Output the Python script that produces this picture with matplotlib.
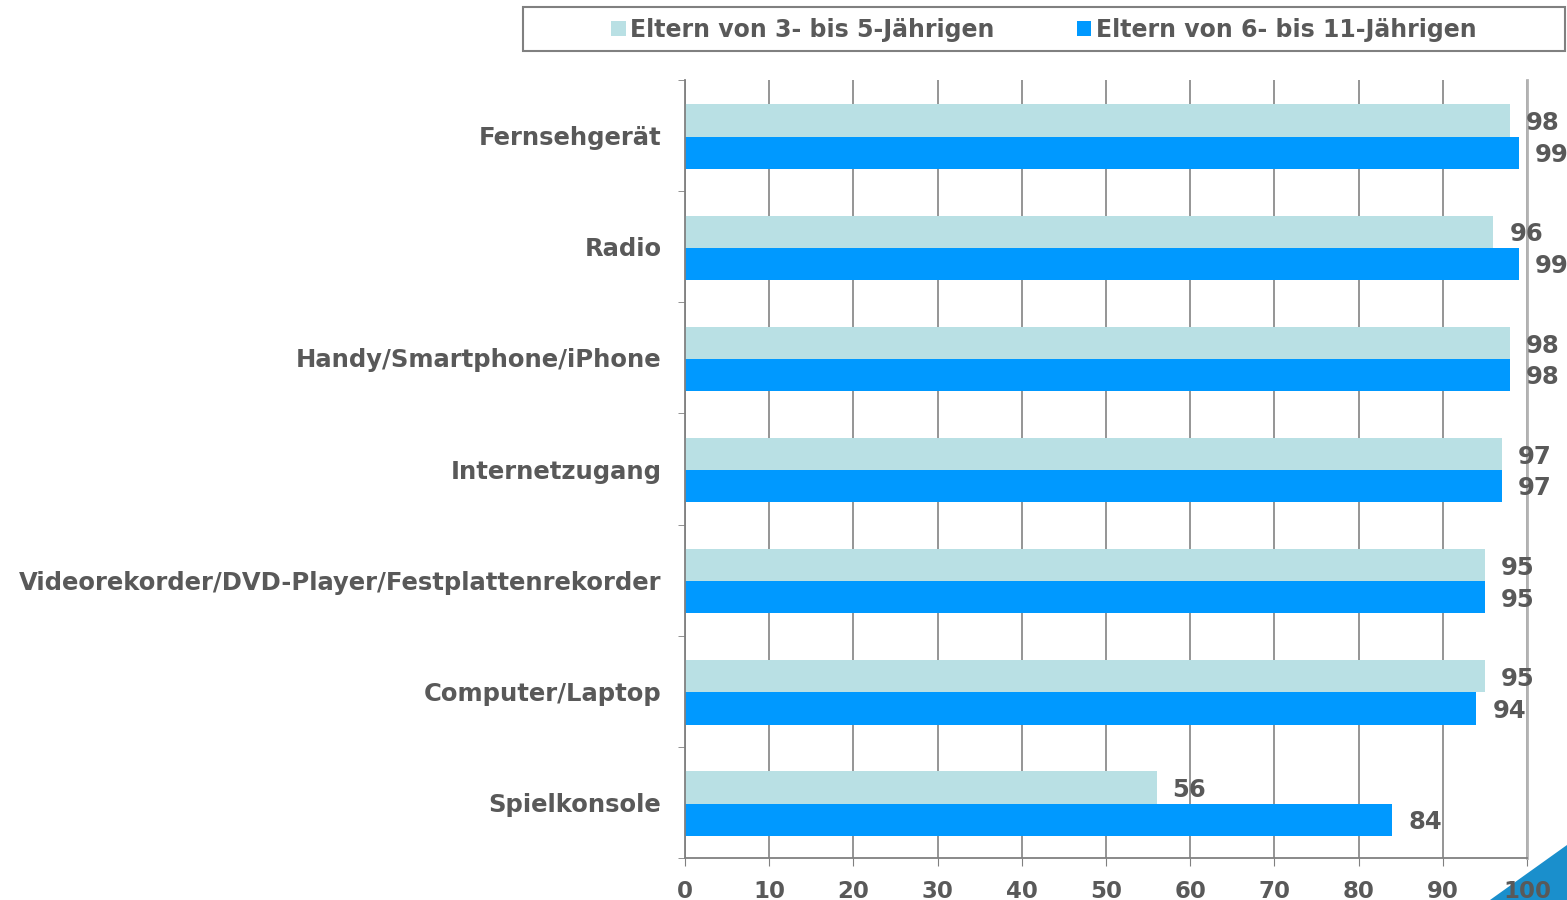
import matplotlib
matplotlib.use("Agg")
import matplotlib.pyplot as plt
from matplotlib.patches import Rectangle, Polygon, Patch
import numpy as np

categories = ["Fernsehgerät", "Radio", "Handy/Smartphone/iPhone", "Internetzugang",
              "Videorekorder/DVD-Player/Festplattenrekorder", "Computer/Laptop", "Spielkonsole"]
series_names = ["Eltern von 3- bis 5-Jährigen", "Eltern von 6- bis 11-Jährigen"]
vals_3_5 = [98, 96, 98, 97, 95, 95, 56]
vals_6_11 = [99, 99, 98, 97, 95, 94, 84]
xticks = list(range(0, 101, 10))

light = "#b9e0e4"
dark = "#0099ff"
txt = "#595959"

plt.rcParams['font.family'] = ['DejaVu Sans']

fig = plt.figure(figsize=(15.67, 9), dpi=100)
ax = fig.add_axes([685/1567, 42/900, (1527-685)/1567, (858-80)/900])

y = np.arange(len(categories))
h = 0.29
ax.barh(y - h/2 + 0.01, vals_3_5, height=h, color=light, zorder=2)
ax.barh(y + h/2 + 0.01, vals_6_11, height=h, color=dark, zorder=2)

for yi, v in zip(y, vals_3_5):
    ax.text(v + 1.9, yi - h/2 + 0.035, str(v), va='center', ha='left',
            fontsize=17.5, fontweight='bold', color=txt, zorder=3)
for yi, v in zip(y, vals_6_11):
    ax.text(v + 1.9, yi + h/2 + 0.03, str(v), va='center', ha='left',
            fontsize=17.5, fontweight='bold', color=txt, zorder=3)

ax.set_xlim(0, 100)
ax.set_ylim(len(categories) - 0.5, -0.5)
ax.set_xticks(xticks)
ax.set_xticklabels([str(t) for t in xticks], fontsize=16.5, fontweight='bold', color=txt)
ax.set_yticks(y)
ax.set_yticklabels(categories, fontsize=17.5, fontweight='bold', color=txt)
ax.set_yticks(np.arange(-0.5, len(categories)), minor=True)
ax.tick_params(axis='y', which='major', length=0, pad=17)
ax.tick_params(axis='y', which='minor', length=5, color='#808080', direction='out')
ax.tick_params(axis='x', which='major', length=6, color='#808080', direction='out', pad=10)

ax.grid(axis='x', color='#8c8c8c', linewidth=1.3, zorder=0)
ax.set_axisbelow(True)
ax.spines['top'].set_visible(False)
ax.spines['right'].set_color('#b3b3b3')
ax.spines['right'].set_linewidth(2)
ax.spines['left'].set_color('#808080')
ax.spines['bottom'].set_color('#808080')
ax.spines['left'].set_linewidth(1.3)
ax.spines['bottom'].set_linewidth(1.3)

# legend frame
fig.patches.append(Rectangle((523/1567, 1 - 51/900), (1565-523)/1567, 44/900,
                             transform=fig.transFigure, facecolor='white',
                             edgecolor='#808080', linewidth=1.5))
handles = [Patch(facecolor=light), Patch(facecolor=dark)]
fig.legend(handles, series_names, loc='center', bbox_to_anchor=(0.6663, 1 - 30/900),
           ncol=2, frameon=False, prop={'size': 17, 'weight': 'bold'},
           labelcolor=txt, handlelength=0.6, handleheight=0.6, handletextpad=0.2,
           columnspacing=3.5)

# decorative corner triangle
fig.patches.append(Polygon([(1490/1567, 0), (1, 55/900), (1, 0)], closed=True,
                           transform=fig.transFigure, facecolor='#1a8fcc',
                           edgecolor='none', zorder=-1))

fig.savefig("out.png", dpi=100)
